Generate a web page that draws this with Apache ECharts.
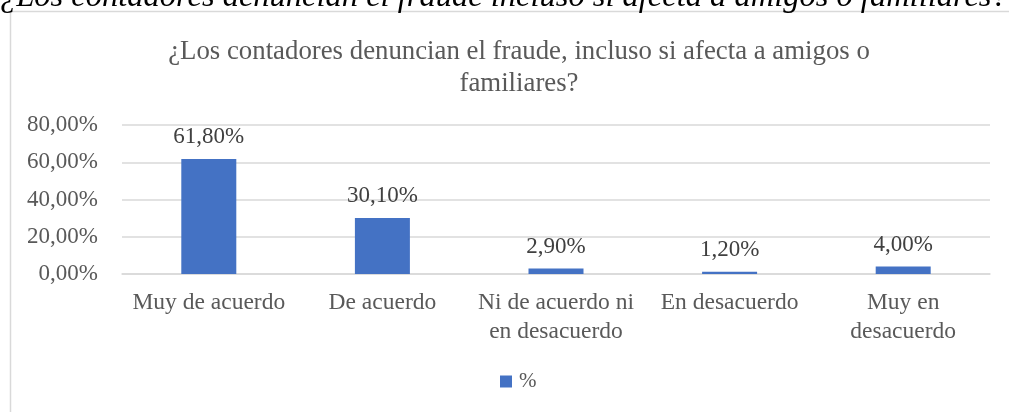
<!DOCTYPE html>
<html>
<head>
<meta charset="utf-8">
<script src="https://cdn.jsdelivr.net/npm/echarts@6/dist/echarts.min.js"></script>
<style>
  html, body { margin: 0; padding: 0; background: #fff; }
  #chart { width: 1009px; height: 412px; }
</style>
</head>
<body>
<div id="chart"></div>
<script>
const categories = ['Muy de acuerdo', 'De acuerdo', 'Ni de acuerdo ni\nen desacuerdo', 'En desacuerdo', 'Muy en\ndesacuerdo']
const percentValues = [61.8, 30.1, 2.9, 1.2, 4.0]
const yTicks = [0, 20, 40, 60, 80]
const seriesName = '%'
const chartTitle = '¿Los contadores denuncian el fraude, incluso si afecta a amigos o\nfamiliares?'
const pageHeading = '¿Los contadores denuncian el fraude incluso si afecta a amigos o familiares?'

const serif = '"Liberation Serif", "Times New Roman", serif'

function fmt (v, digits) {
  return v.toFixed(digits).replace('.', ',') + '%'
}

const chart = echarts.init(document.getElementById('chart'))
chart.setOption({
  animation: false,
  textStyle: { fontFamily: serif },
  title: {
    text: chartTitle,
    left: 514,
    textAlign: 'center',
    top: 31,
    textStyle: {
      fontFamily: serif,
      fontSize: 26.8,
      fontWeight: 'normal',
      color: '#595959',
      lineHeight: 32
    }
  },
  graphic: [
    {
      type: 'rect',
      shape: { x: 10.5, y: 11.5, width: 1100, height: 500 },
      style: { fill: 'none', stroke: '#d9d9d9', lineWidth: 1.5 },
      silent: true
    },
    {
      type: 'text',
      x: 0,
      y: -3,
      style: {
        text: pageHeading,
        font: 'italic 32.5px ' + serif,
        fill: '#000',
        verticalAlign: 'middle'
      },
      silent: true
    }
  ],
  legend: {
    data: [seriesName],
    top: 366,
    left: 495,
    itemWidth: 12,
    itemHeight: 12,
    icon: 'rect',
    textStyle: { fontFamily: serif, fontSize: 21, color: '#595959', padding: [0, 0, 0, 2] }
  },
  grid: {
    left: 122,
    right: 19,
    top: 125,
    bottom: 138,
    containLabel: false
  },
  xAxis: {
    type: 'category',
    data: categories,
    axisLine: { lineStyle: { color: '#d9d9d9', width: 1.5 } },
    axisTick: { show: false },
    axisLabel: {
      fontFamily: serif,
      fontSize: 23.5,
      color: '#595959',
      lineHeight: 29,
      margin: 14,
      interval: 0
    }
  },
  yAxis: {
    type: 'value',
    min: yTicks[0],
    max: yTicks[yTicks.length - 1],
    interval: 20,
    axisLine: { show: false },
    axisTick: { show: false },
    splitLine: { lineStyle: { color: '#d9d9d9', width: 1.5 } },
    axisLabel: {
      fontFamily: serif,
      fontSize: 23,
      color: '#595959',
      margin: 24,
      formatter: function (v) { return fmt(v, 2) }
    }
  },
  series: [
    {
      name: seriesName,
      type: 'bar',
      data: percentValues,
      barWidth: 55,
      itemStyle: { color: '#4472C4' },
      label: {
        show: true,
        position: 'top',
        distance: 10,
        fontFamily: serif,
        fontSize: 23,
        color: '#404040',
        formatter: function (p) { return fmt(p.value, 2) }
      }
    }
  ]
})
</script>
</body>
</html>
